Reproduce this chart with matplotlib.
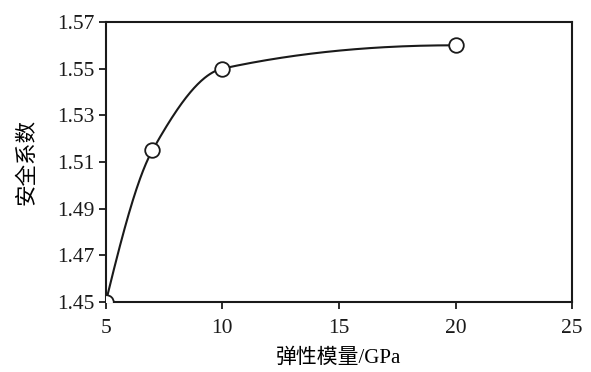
import numpy as np
import matplotlib
matplotlib.use("Agg")
import matplotlib.pyplot as plt

plt.rcParams['font.family'] = ['Liberation Serif', 'Noto Sans CJK SC']

modulus = [5, 7, 10, 20]
safety_factor = [1.45, 1.515, 1.55, 1.56]
x_ticks = [5, 10, 15, 20, 25]
y_ticks = [1.45, 1.47, 1.49, 1.51, 1.53, 1.55, 1.57]


def pchip_curve(xs, ys, n=80):
    # monotone cubic hermite (Fritsch-Carlson) through the points
    x = np.asarray(xs, float)
    y = np.asarray(ys, float)
    h = np.diff(x)
    d = np.diff(y) / h
    m = np.zeros_like(x)
    for k in range(1, len(x) - 1):
        if d[k - 1] * d[k] > 0:
            w1 = 2 * h[k] + h[k - 1]
            w2 = h[k] + 2 * h[k - 1]
            m[k] = (w1 + w2) / (w1 / d[k - 1] + w2 / d[k])
    m[0] = ((2 * h[0] + h[1]) * d[0] - h[0] * d[1]) / (h[0] + h[1])
    m[-1] = ((2 * h[-1] + h[-2]) * d[-1] - h[-1] * d[-2]) / (h[-1] + h[-2])
    m[0] = m[0] if m[0] * d[0] > 0 else 0
    m[-1] = m[-1] if m[-1] * d[-1] > 0 else 0
    cx, cy = [], []
    for k in range(len(x) - 1):
        t = np.linspace(0, 1, n)
        h00 = 2 * t ** 3 - 3 * t ** 2 + 1
        h10 = t ** 3 - 2 * t ** 2 + t
        h01 = -2 * t ** 3 + 3 * t ** 2
        h11 = t ** 3 - t ** 2
        cx.append(x[k] + t * h[k])
        cy.append(h00 * y[k] + h10 * h[k] * m[k] + h01 * y[k + 1] + h11 * h[k] * m[k + 1])
    return np.concatenate(cx), np.concatenate(cy)


fig = plt.figure(figsize=(5.91, 3.72), dpi=100)
ax = fig.add_axes([0.179, 0.188, 0.789, 0.753])

cx, cy = pchip_curve(modulus, safety_factor)
ax.plot(cx, cy, color="#1a1a1a", lw=1.5, zorder=2)
ax.plot(modulus, safety_factor, "o", ms=10.5, mfc="white", mec="#1a1a1a", mew=1.3, zorder=3)

ax.set_xlim(5, 25)
ax.set_ylim(1.45, 1.57)
ax.set_xticks(x_ticks)
ax.set_yticks(y_ticks)
ax.set_yticklabels([f"{v:.2f}" for v in y_ticks])
ax.tick_params(direction="out", length=5, width=1.3, labelsize=15.5, colors="#1a1a1a")
ax.tick_params(axis="x", pad=7)
ax.tick_params(axis="y", pad=3)
for s in ax.spines.values():
    s.set_linewidth(1.5)
    s.set_color("#1a1a1a")

ax.set_xlabel("弹性模量/GPa", fontsize=15, labelpad=8)
ax.set_ylabel("安全系数", fontsize=15.5, labelpad=14)

fig.savefig("out.png", dpi=100)
